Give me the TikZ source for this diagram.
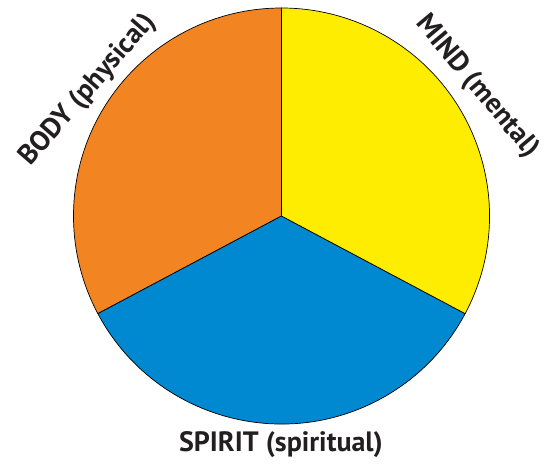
\documentclass[tikz,border=0pt]{standalone}
\usepackage{fontspec}
\setmainfont{PT Sans}
\usetikzlibrary{positioning}
\definecolor{bodyorange}{RGB}{242,133,34}
\definecolor{mindyellow}{RGB}{255,237,0}
\definecolor{spiritblue}{RGB}{0,136,209}
\definecolor{lbltext}{RGB}{35,31,32}
\begin{document}
\begin{tikzpicture}[x=1pt, y=1pt,
        sector/.style={draw=black, line width=0.7pt, line join=round},
        lbl/.style={font=\bfseries\fontsize{28}{30}\selectfont, text=lbltext, inner sep=0pt}]
      \useasboundingbox (0,-468) rectangle (545,0);
      \coordinate (c) at (281.5,-216);
      % three parts of the whole
      \filldraw[sector, fill=bodyorange] (c) -- ([shift={(c)}]90:208) arc[start angle=90, end angle=208, radius=208] -- cycle;
      \filldraw[sector, fill=spiritblue] (c) -- ([shift={(c)}]208:208) arc[start angle=208, end angle=332, radius=208] -- cycle;
      \filldraw[sector, fill=mindyellow] (c) -- ([shift={(c)}]332:208) arc[start angle=-28, end angle=90, radius=208] -- cycle;
      \node[lbl, rotate=49] (body) at (88,-90) {BODY (physical)};
      \node[lbl, rotate=-50] (mind) at (477,-87) {MIND (mental)};
      \node[lbl] (spirit) at (281,-445) {SPIRIT (spiritual)};
    \end{tikzpicture}
\end{document}
